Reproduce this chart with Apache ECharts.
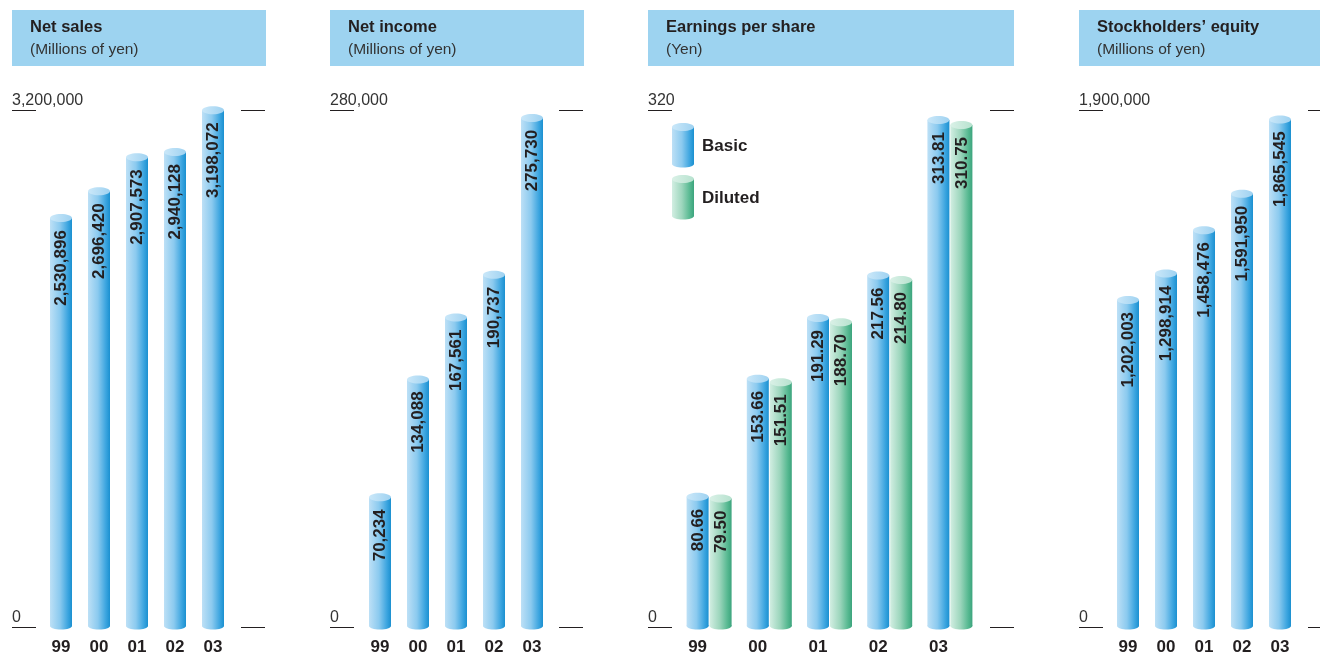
<!DOCTYPE html>
<html>
<head>
<meta charset="utf-8">
<script src="https://cdn.jsdelivr.net/npm/echarts@6/dist/echarts.min.js"></script>
<style>
  html, body { margin: 0; padding: 0; background: #ffffff; }
  #chart { width: 1320px; height: 656px; }
</style>
</head>
<body>
<div id="chart"></div>
<script>
// ---------- data ----------
const years = ['99', '00', '01', '02', '03'];
const netSales = [2530896, 2696420, 2907573, 2940128, 3198072];
const netIncome = [70234, 134088, 167561, 190737, 275730];
const epsBasic = [80.66, 153.66, 191.29, 217.56, 313.81];
const epsDiluted = [79.50, 151.51, 188.70, 214.80, 310.75];
const equity = [1202003, 1298914, 1458476, 1591950, 1865545];
const epsSeriesNames = ['Basic', 'Diluted'];
const panelTitles = ['Net sales', 'Net income', 'Earnings per share', 'Stockholders\u2019 equity'];
const panelUnits = ['(Millions of yen)', '(Millions of yen)', '(Yen)', '(Millions of yen)'];
const axisMax = [3200000, 280000, 320, 1900000];
const tickLabels = [['0', '3,200,000'], ['0', '280,000'], ['0', '320'], ['0', '1,900,000']];

// ---------- layout / style ----------
const TOP = 110, HEIGHT = 517;
const INK = '#231f20';
const SANS = '"Liberation Sans", Arial, sans-serif';
const NARROW = '"Liberation Sans Narrow", "Liberation Sans", Arial, sans-serif';
const panels = [
  { hx: 12, hw: 254, ax: 12, aw: 253, dash: [24, 205], bx: 42, bw: 190 },
  { hx: 330, hw: 254, ax: 330, aw: 253, dash: [24, 205], bx: 361, bw: 190 },
  { hx: 648, hw: 366, ax: 648, aw: 366, dash: [24, 318], bx: 679, bw: 301 },
  { hx: 1079, hw: 241, ax: 1079, aw: 241, dash: [24, 205], bx: 1109, bw: 190 }
];
const BLUE = {
  body: [[0, '#bde0f6'], [0.45, '#8bcaef'], [0.82, '#3aa4df'], [1, '#1b90d0']],
  top: [[0, '#cbe8f9'], [1, '#9fd2f1']]
};
const GREEN = {
  body: [[0, '#d2eee2'], [0.45, '#9dd6bd'], [0.82, '#55b890'], [1, '#3ca47d']],
  top: [[0, '#daf1e7'], [1, '#b7e2cf']]
};
const BAR_W = 22;

function grad(stops) {
  return { type: 'linear', x: 0, y: 0, x2: 1, y2: 0,
    colorStops: stops.map(s => ({ offset: s[0], color: s[1] })) };
}
const fmtInt = v => Number(v).toLocaleString('en-US');
const fmtDec = v => Number(v).toFixed(2);

function cylinderParts(cx, yTop, yBase, pal) {
  const x = cx - BAR_W / 2;
  return [
    { type: 'ellipse', shape: { cx: cx, cy: yBase - 1, rx: BAR_W / 2, ry: 3.5 }, style: { fill: grad(pal.body) } },
    { type: 'rect', shape: { x: x, y: yTop, width: BAR_W, height: yBase - 1 - yTop }, style: { fill: grad(pal.body) } },
    { type: 'ellipse', shape: { cx: cx, cy: yTop, rx: BAR_W / 2, ry: 4 }, style: { fill: grad(pal.top) } }
  ];
}

function cylinderItem(pal, offset, fmt) {
  return function (params, api) {
    const i = api.value(0), v = api.value(1);
    const p = api.coord([i, v]);
    const b = api.coord([i, 0]);
    const cx = p[0] + offset;
    const children = cylinderParts(cx, p[1], b[1], pal);
    children.push({
      type: 'text', x: cx + 0.5, y: p[1] + 12, rotation: Math.PI / 2,
      style: { text: fmt(v), align: 'right', verticalAlign: 'middle', fill: INK,
        fontSize: 17, fontWeight: 'bold', fontFamily: SANS }
    });
    return { type: 'group', children: children };
  };
}

const grids = [], xAxes = [], yAxes = [], series = [], graphics = [];
const panelSeries = [
  [{ data: netSales, pal: BLUE, off: 0, fmt: fmtInt }],
  [{ data: netIncome, pal: BLUE, off: 0, fmt: fmtInt }],
  [{ data: epsBasic, pal: BLUE, off: -11.5, fmt: fmtDec, name: epsSeriesNames[0] },
   { data: epsDiluted, pal: GREEN, off: 11.5, fmt: fmtDec, name: epsSeriesNames[1] }],
  [{ data: equity, pal: BLUE, off: 0, fmt: fmtInt }]
];

panels.forEach((pn, k) => {
  // header
  graphics.push({ type: 'rect', shape: { x: pn.hx, y: 10, width: pn.hw, height: 56 }, style: { fill: '#9dd3f0' }, silent: true });
  graphics.push({ type: 'text', x: pn.hx + 18, y: 27, style: { text: panelTitles[k], fill: INK,
    fontSize: 16.5, fontWeight: 'bold', fontFamily: SANS, verticalAlign: 'middle', align: 'left' } });
  graphics.push({ type: 'text', x: pn.hx + 18, y: 50, style: { text: panelUnits[k], fill: '#333333',
    fontSize: 15.5, fontFamily: SANS, verticalAlign: 'middle', align: 'left' } });

  // grid A: reference lines + tick labels
  const gA = grids.length;
  grids.push({ left: pn.ax, top: TOP, width: pn.aw, height: HEIGHT });
  xAxes.push({ type: 'value', gridIndex: gA, show: false, min: 0, max: 1 });
  yAxes.push({
    type: 'value', gridIndex: gA, min: 0, max: axisMax[k], interval: axisMax[k],
    axisLine: { show: false }, axisTick: { show: false },
    splitLine: { show: true, lineStyle: { color: INK, width: 1, type: pn.dash, dashOffset: 0 } },
    axisLabel: {
      inside: true, margin: 0, align: 'left', verticalAlign: 'bottom', lineHeight: 14, padding: [0, 0, 2, 0],
      color: '#333333', fontSize: 16, fontFamily: SANS, showMinLabel: true, showMaxLabel: true,
      formatter: v => (v === 0 ? tickLabels[k][0] : tickLabels[k][1])
    }
  });

  // grid B: cylinders
  const gB = grids.length;
  grids.push({ left: pn.bx, top: TOP, width: pn.bw, height: HEIGHT });
  xAxes.push({
    type: 'category', gridIndex: gB, data: years,
    axisLine: { show: false }, axisTick: { show: false },
    axisLabel: { interval: 0, margin: 12, color: INK, fontSize: 17, fontWeight: 'bold', fontFamily: NARROW,
      padding: k === 2 ? [0, 23, 0, 0] : 0 }
  });
  yAxes.push({ type: 'value', gridIndex: gB, min: 0, max: axisMax[k], show: false, splitLine: { show: false } });

  panelSeries[k].forEach(s => {
    series.push({
      type: 'custom', name: s.name, xAxisIndex: gB, yAxisIndex: gB,
      data: s.data.map((v, i) => [i, v]), encode: { x: 0, y: 1 },
      renderItem: cylinderItem(s.pal, s.off, s.fmt), clip: false
    });
  });
});

// legend for EPS panel (cylinder icons)
[BLUE, GREEN].forEach((pal, j) => {
  const yTop = 127 + j * 52, yBase = yTop + 38;
  graphics.push({ type: 'group', children: cylinderParts(683, yTop, yBase, pal) });
  graphics.push({ type: 'text', x: 702, y: yTop + 19, style: { text: epsSeriesNames[j], fill: INK,
    fontSize: 17, fontWeight: 'bold', fontFamily: NARROW, verticalAlign: 'middle', align: 'left' } });
});

const chart = echarts.init(document.getElementById('chart'), null, { renderer: 'canvas' });
chart.setOption({
  animation: false,
  backgroundColor: '#ffffff',
  grid: grids, xAxis: xAxes, yAxis: yAxes, series: series,
  graphic: { elements: graphics }
});
</script>
</body>
</html>
